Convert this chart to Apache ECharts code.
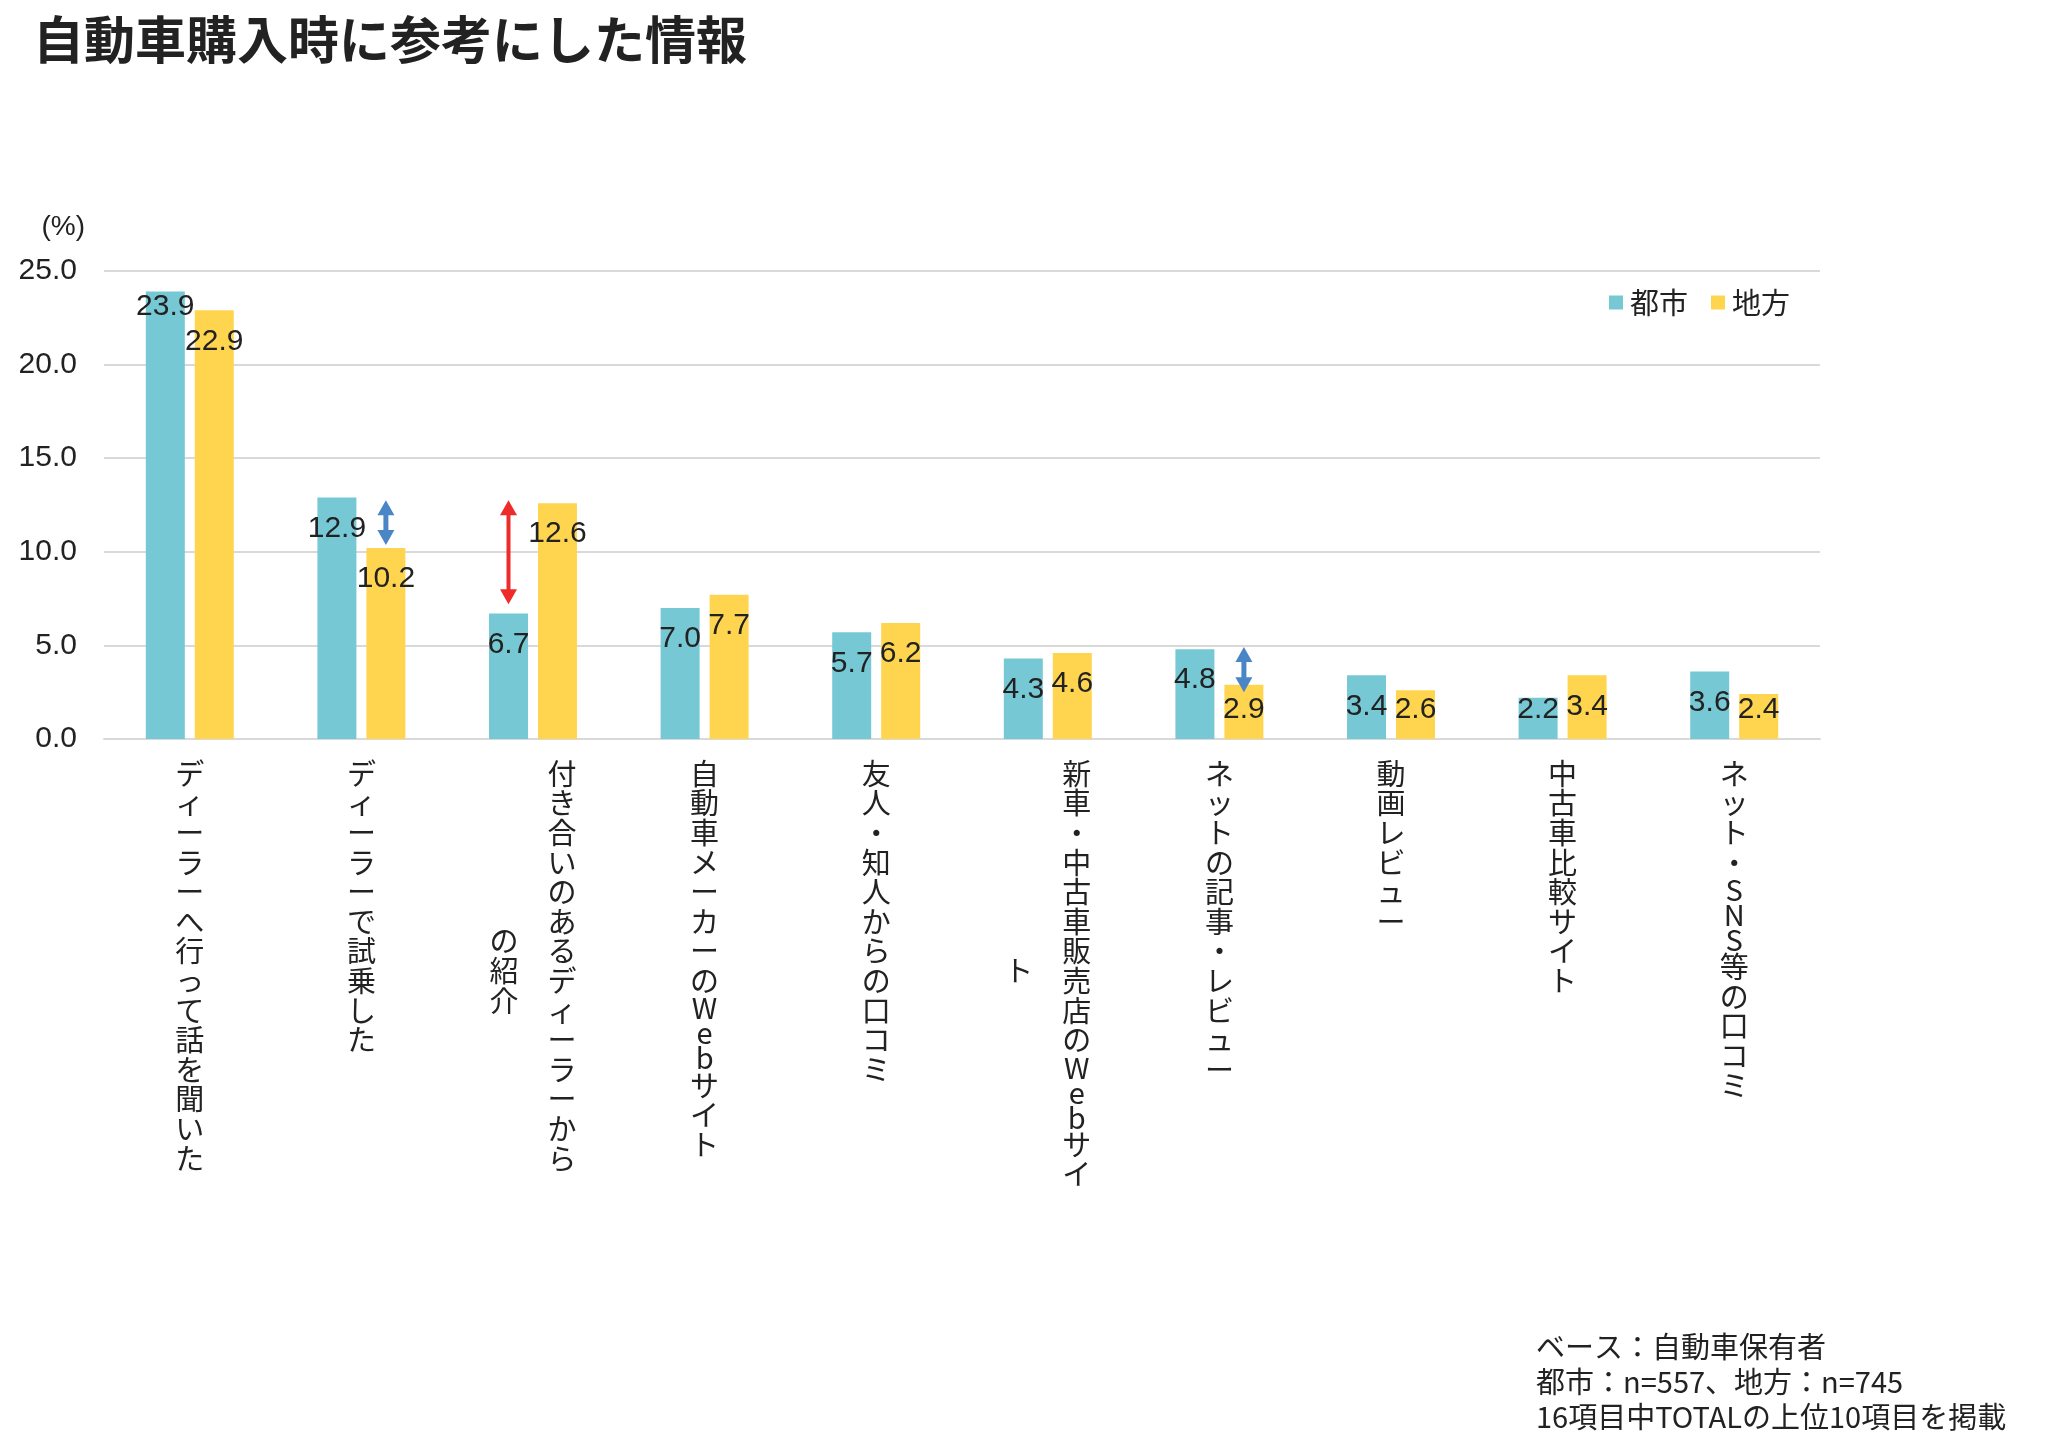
<!DOCTYPE html>
<html>
<head>
<meta charset="utf-8">
<script src="https://cdn.jsdelivr.net/npm/echarts@6/dist/echarts.min.js"></script>
<style>
html,body{margin:0;padding:0;background:#ffffff;}
#chart{width:2048px;height:1447px;}
</style>
</head>
<body>
<div id="chart"></div>
<script>
// ---- data ----
const titleText = '自動車購入時に参考にした情報';
const unitLabel = '(%)';
const categories = [
  'ディーラーへ行って話を聞いた',
  'ディーラーで試乗した',
  '付き合いのあるディーラーからの紹介',
  '自動車メーカーのWebサイト',
  '友人・知人からの口コミ',
  '新車・中古車販売店のWebサイト',
  'ネットの記事・レビュー',
  '動画レビュー',
  '中古車比較サイト',
  'ネット・SNS等の口コミ'
];
// character index where a label wraps into a second column (0 = no wrap)
const columnBreaks = [0, 0, 14, 0, 0, 15, 0, 0, 0, 0];
const seriesNames = ['都市', '地方'];
const toshiValues = [23.9, 12.9, 6.7, 7.0, 5.7, 4.3, 4.8, 3.4, 2.2, 3.6];
const chihoValues = [22.9, 10.2, 12.6, 7.7, 6.2, 4.6, 2.9, 2.6, 3.4, 2.4];
const yMin = 0, yMax = 25, yInterval = 5;
// difference arrows: category, bar (0 = 都市, 1 = 地方), from value, to value
const arrowCategories = [1, 2, 6];
const arrowBars = [1, 0, 1];
const arrowFrom = [12.76, 12.76, 4.91];
const arrowTo = [10.36, 7.2, 2.5];
const arrowColors = ['#4A86C6', '#EE2B2B', '#4A86C6'];
const noteLines = [
  'ベース：自動車保有者',
  '都市：n=557、地方：n=745',
  '16項目中TOTALの上位10項目を掲載'
];

// ---- styles ----
const CYAN = '#77C8D5';
const YELLOW = '#FFD54F';
const TEXT = '#222222';
const JP = "'Noto Sans CJK JP', 'Noto Sans', sans-serif";
const LAT = "'Liberation Sans', Arial, sans-serif";
const BAR_W = 39;
const BAR_GAP = 10;
const LABEL_FS = 29;
const LABEL_LH = 29.6;
const LATIN_LH = 25;
const COL_SHIFT = 58;

function barData(vals, sIdx) {
  return vals.map(function (v, i) {
    const small = v < 3.2;
    let dist = small ? 14 : 16;
    if (sIdx === 0 && i === 0) dist = 0;
    return {
      value: v,
      label: { position: small ? 'insideBottom' : 'insideTop', distance: dist }
    };
  });
}

const arrowData = arrowCategories.map(function (c, i) {
  return [c, arrowFrom[i], arrowTo[i], arrowBars[i], i];
});

function renderArrow(params, api) {
  const cat = api.value(0);
  const side = api.value(3);
  const idx = api.value(4);
  const color = arrowColors[idx];
  const p1 = api.coord([cat, api.value(1)]);
  const p2 = api.coord([cat, api.value(2)]);
  const dx = (side === 0 ? -1 : 1) * (BAR_GAP / 2 + BAR_W / 2);
  const x = p1[0] + dx;
  const yTop = Math.min(p1[1], p2[1]);
  const yBot = Math.max(p1[1], p2[1]);
  const headH = 15, headW = 17;
  return {
    type: 'group',
    children: [
      { type: 'line', shape: { x1: x, y1: yTop + headH - 1, x2: x, y2: yBot - headH + 1 },
        style: { stroke: color, lineWidth: idx === 1 ? 4 : 5 } },
      { type: 'polygon', shape: { points: [[x, yTop], [x - headW / 2, yTop + headH], [x + headW / 2, yTop + headH]] },
        style: { fill: color } },
      { type: 'polygon', shape: { points: [[x, yBot], [x - headW / 2, yBot - headH], [x + headW / 2, yBot - headH]] },
        style: { fill: color } }
    ]
  };
}

const labelBase = { fontFamily: JP, fontSize: LABEL_FS, lineHeight: LABEL_LH, color: TEXT };
function richStyles(shiftPad) {
  return {
    j: Object.assign({}, labelBase, { padding: shiftPad }),
    a: Object.assign({}, labelBase, { lineHeight: LATIN_LH, padding: shiftPad })
  };
}
// stack characters vertically, one per line; Latin letters get a tighter line
function stack(text) {
  return Array.from(text).map(function (c) {
    return (/[A-Za-z]/.test(c) ? '{a|' : '{j|') + c + '}';
  }).join('\n');
}

const option = {
  animation: false,
  backgroundColor: '#ffffff',
  textStyle: { fontFamily: JP, color: TEXT },
  title: [
    {
      text: titleText,
      left: 33, top: 14, padding: 0,
      textStyle: { fontFamily: JP, fontSize: 51, fontWeight: 'bold', color: TEXT, lineHeight: 51 }
    },
    {
      text: noteLines.join('\n'),
      left: 1536, top: 1329, padding: 0,
      textStyle: { fontFamily: JP, fontSize: 29, fontWeight: 'normal', color: TEXT, lineHeight: 35 }
    }
  ],
  legend: {
    data: seriesNames,
    right: 258, top: 288, padding: 0,
    icon: 'rect', itemWidth: 14, itemHeight: 14, itemGap: 23,
    textStyle: { fontFamily: JP, fontSize: 29, color: TEXT, padding: [0, 0, 0, 2] }
  },
  grid: { left: 104, right: 228, top: 271, bottom: 708, containLabel: false },
  xAxis: [
    {
      type: 'category',
      data: categories,
      position: 'bottom',
      axisLine: { show: true, lineStyle: { color: '#D9D9D9', width: 2 } },
      axisTick: { show: false },
      splitLine: { show: false },
      axisLabel: Object.assign({}, labelBase, {
        interval: 0,
        margin: 20,
        hideOverlap: false,
        formatter: function (value, idx) {
          const brk = columnBreaks[idx];
          const first = brk ? value.slice(0, brk) : value;
          const s = stack(first);
          return brk ? s.replace(/\{j\|/g, '{jr|').replace(/\{a\|/g, '{ar|') : s;
        },
        rich: (function () {
          const base = richStyles([0, 0, 0, 0]);
          const shifted = richStyles([0, 0, 0, COL_SHIFT]);
          return { j: base.j, a: base.a, jr: shifted.j, ar: shifted.a };
        })()
      })
    },
    {
      type: 'category',
      data: categories,
      position: 'bottom',
      gridIndex: 0,
      axisLine: { show: false },
      axisTick: { show: false },
      splitLine: { show: false },
      axisLabel: Object.assign({}, labelBase, {
        interval: 0,
        margin: 232,
        verticalAlign: 'middle',
        hideOverlap: false,
        formatter: function (value, idx) {
          const brk = columnBreaks[idx];
          if (!brk) return '';
          return stack(value.slice(brk));
        },
        rich: richStyles([0, COL_SHIFT, 0, 0])
      })
    }
  ],
  yAxis: {
    type: 'value',
    min: yMin, max: yMax, interval: yInterval,
    name: unitLabel,
    nameLocation: 'end',
    nameGap: 44,
    nameTextStyle: { fontFamily: LAT, fontSize: 28, color: TEXT, align: 'right', verticalAlign: 'middle', padding: [0, 19, 0, 0] },
    axisLine: { show: false },
    axisTick: { show: false },
    splitLine: { show: true, lineStyle: { color: '#D9D9D9', width: 2 } },
    axisLabel: {
      margin: 27, fontFamily: LAT, fontSize: 30, color: TEXT,
      formatter: function (v) { return v.toFixed(1); }
    }
  },
  series: [
    {
      name: seriesNames[0], type: 'bar', xAxisIndex: 0,
      barWidth: BAR_W, barGap: (BAR_GAP / BAR_W * 100).toFixed(1) + '%',
      itemStyle: { color: CYAN },
      label: { show: true, fontFamily: LAT, fontSize: 30, lineHeight: 30, color: TEXT, formatter: function (p) { return p.value.toFixed(1); } },
      data: barData(toshiValues, 0)
    },
    {
      name: seriesNames[1], type: 'bar', xAxisIndex: 0,
      barWidth: BAR_W, barGap: (BAR_GAP / BAR_W * 100).toFixed(1) + '%',
      itemStyle: { color: YELLOW },
      label: { show: true, fontFamily: LAT, fontSize: 30, lineHeight: 30, color: TEXT, formatter: function (p) { return p.value.toFixed(1); } },
      data: barData(chihoValues, 1)
    },
    {
      name: 'arrows', type: 'custom', xAxisIndex: 0, yAxisIndex: 0,
      silent: true, z: 5,
      renderItem: renderArrow,
      data: arrowData
    }
  ]
};

const chart = echarts.init(document.getElementById('chart'), null, { renderer: 'canvas' });
chart.setOption(option);
</script>
</body>
</html>
